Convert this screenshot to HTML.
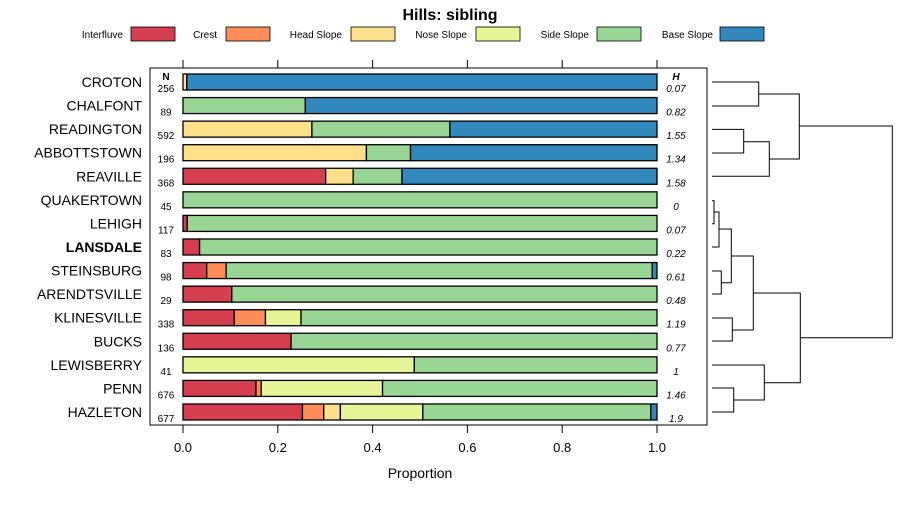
<!DOCTYPE html>
<html><head><meta charset="utf-8"><style>
body{margin:0;background:#fff;font-family:"Liberation Sans",sans-serif}
</style></head><body>
<svg id="c" width="900" height="500" xmlns="http://www.w3.org/2000/svg" font-family="Liberation Sans, sans-serif"></svg>
<script>
const categories=["CROTON","CHALFONT","READINGTON","ABBOTTSTOWN","REAVILLE","QUAKERTOWN","LEHIGH","LANSDALE","STEINSBURG","ARENDTSVILLE","KLINESVILLE","BUCKS","LEWISBERRY","PENN","HAZLETON"];
const nValues=[256,89,592,196,368,45,117,83,98,29,338,136,41,676,677];
const hValues=["0.07","0.82","1.55","1.34","1.58","0","0.07","0.22","0.61","0.48","1.19","0.77","1","1.46","1.9"];
const seriesNames=["Interfluve","Crest","Head Slope","Nose Slope","Side Slope","Base Slope"];
const interfluve=[0,0,0,0,0.301,0,0.009,0.035,0.05,0.103,0.108,0.228,0,0.154,0.252];
const crest=[0,0,0,0,0,0,0,0,0.041,0,0.066,0,0,0.011,0.045];
const headSlope=[0.008,0,0.272,0.387,0.058,0,0,0,0,0,0,0,0,0,0.035];
const noseSlope=[0,0,0,0,0,0,0,0,0,0,0.075,0,0.488,0.256,0.174];
const sideSlope=[0,0.258,0.291,0.093,0.103,1,0.991,0.965,0.899,0.897,0.751,0.772,0.512,0.579,0.481];
const baseSlope=[0.992,0.742,0.437,0.52,0.538,0,0,0,0.01,0,0,0,0,0,0.013];
const xTicks=[0,0.2,0.4,0.6,0.8,1.0];
const xTickLabels=["0.0","0.2","0.4","0.6","0.8","1.0"];
const colors=["#D53E4F","#FC8D59","#FEE08B","#E6F598","#99D594","#3288BD"];
const series=[interfluve,crest,headSlope,noseSlope,sideSlope,baseSlope];

const svg=document.getElementById('c');
const NS="http://www.w3.org/2000/svg";
function el(t,a,txt){const e=document.createElementNS(NS,t);for(const k in a)e.setAttribute(k,a[k]);if(txt!==undefined)e.textContent=txt;svg.appendChild(e);return e;}
const x0=183,x1=657;
const xs=v=>x0+v*(x1-x0);
const ys=i=>82+i*23.57;

let t=el('text',{x:450,y:20,'text-anchor':'middle','font-size':16,'font-weight':'bold'},'Hills: sibling');


const legX=[[123,131],[217,226],[342,351],[467,476],[589,597],[713,720]];
seriesNames.forEach((n,k)=>{
  let lt=el('text',{x:legX[k][0],y:38,'text-anchor':'end','font-size':10},n);
  
  
  let lr=el('rect',{x:legX[k][1],y:27,width:44,height:14,fill:colors[k],stroke:'#000','stroke-width':0.8});
  
  
});

let p=el('rect',{x:150,y:68,width:557,height:357,fill:'none',stroke:'#000','stroke-width':1});


xTicks.forEach((v,k)=>{
  let a=el('line',{x1:xs(v),x2:xs(v),y1:60,y2:68,stroke:'#000'});
  
  
  let b=el('line',{x1:xs(v),x2:xs(v),y1:425,y2:433,stroke:'#000'});
  
  
  let l=el('text',{x:xs(v),y:452,'text-anchor':'middle','font-size':13},xTickLabels[k]);
  
  
});
let xt=el('text',{x:420,y:478,'text-anchor':'middle','font-size':14},'Proportion');


let nh=el('text',{x:166,y:80,'text-anchor':'middle','font-size':10,'font-weight':'bold'},'N');

let hh=el('text',{x:676,y:80,'text-anchor':'middle','font-size':10,'font-weight':'bold','font-style':'italic'},'H');


categories.forEach((c,i)=>{
  const y=ys(i);
  let lb=el('text',{x:142,y:y+5,'text-anchor':'end','font-size':14,'font-weight':c==='LANSDALE'?'bold':'normal'},c);
  
  
  let nt=el('text',{x:166,y:y+10,'text-anchor':'middle','font-size':10},String(nValues[i]));
  
  
  let ht=el('text',{x:676,y:y+10,'text-anchor':'middle','font-size':10,'font-style':'italic'},hValues[i]);
  
  
  let cum=0;
  series.forEach((s,k)=>{
    const v=s[i];
    if(v>0){
      let r=el('rect',{x:xs(cum),y:y-8,width:xs(cum+v)-xs(cum),height:16,fill:colors[k],stroke:'#000','stroke-width':1.3});
      
      
    }
    cum+=v;
  });
});

// dendrogram: [x, y-top-child, y-bottom-child, x-left-top, x-left-bottom]
const dendro=[
 [758.7,82,106,712,712],
 [743.7,129.4,153,712,712],
 [769.3,141.7,176.3,743.7,712],
 [799.3,94,159,758.7,769.3],
 [714,200.7,223.7,712,712],
 [719,212,247,714,712],
 [721.3,271,294,712,712],
 [731.3,229,282.7,719,721.3],
 [732.3,318,341,712,712],
 [753.3,256,330,731.3,732.3],
 [733.7,388,412,712,712],
 [764.3,365,400,712,733.7],
 [800.3,293,382.7,753.3,764.3],
 [892.3,126,337.7,799.3,800.3]
];
dendro.forEach(d=>{
  let pth=el('path',{d:`M${d[3]},${d[1]}H${d[0]}V${d[2]}H${d[4]}`,fill:'none',stroke:'#000','stroke-width':1});
  
  
});
</script>
</body></html>
